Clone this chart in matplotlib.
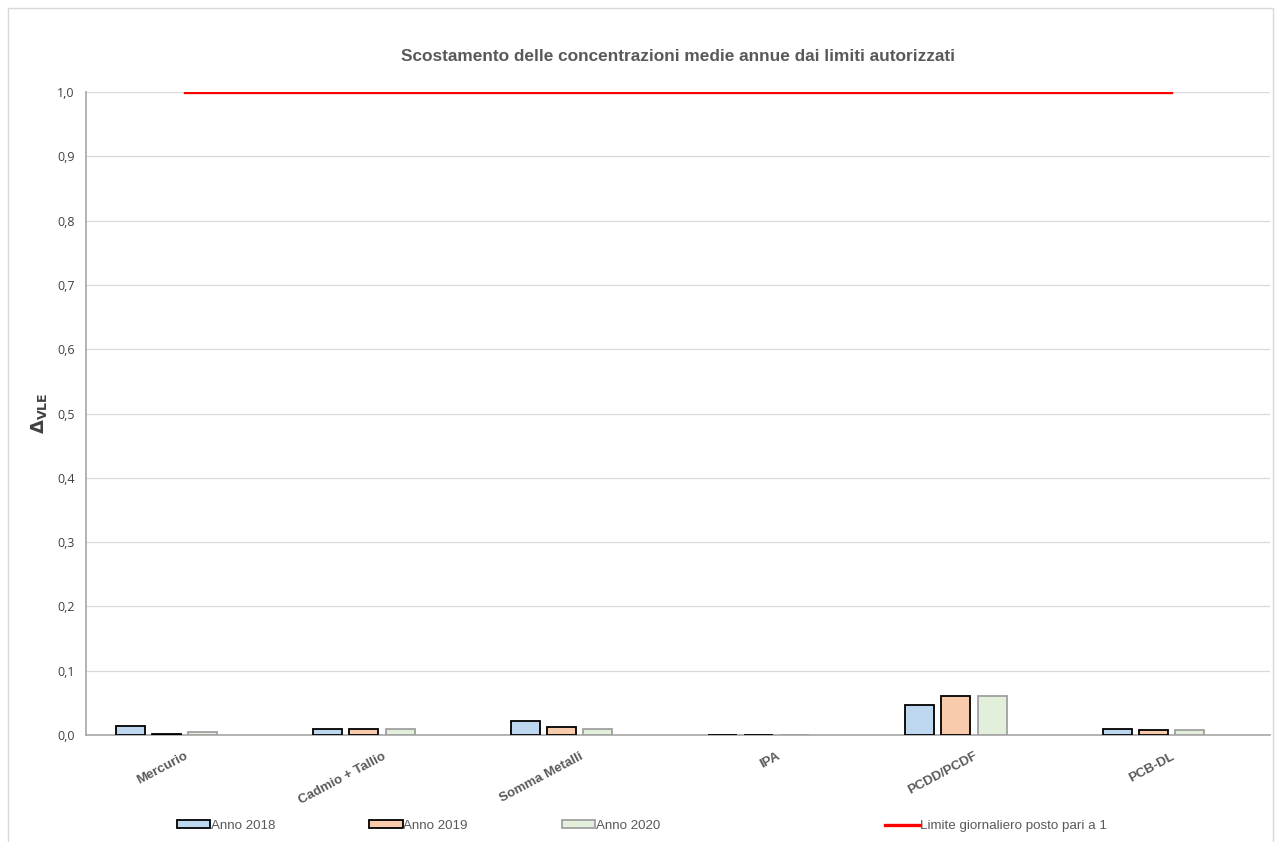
import matplotlib
matplotlib.use("Agg")
import matplotlib.pyplot as plt
import numpy as np
from matplotlib.patches import Rectangle

# deviations of yearly mean concentrations from the authorised limits
categories = ["Mercurio", "Cadmio + Tallio", "Somma Metalli", "IPA", "PCDD/PCDF", "PCB-DL"]
anno_2018 = [0.014, 0.010, 0.021, 0.0005, 0.046, 0.010]
anno_2019 = [0.002, 0.010, 0.012, 0.0005, 0.061, 0.007]
anno_2020 = [0.004, 0.010, 0.009, 0.0005, 0.061, 0.007]
limite = [1.0] * len(categories)

series = [
    ("Anno 2018", anno_2018, "#BDD7EE", "#000000"),
    ("Anno 2019", anno_2019, "#F8CBAD", "#000000"),
    ("Anno 2020", anno_2020, "#E2EFDA", "#A0A0A0"),
]

plt.rcParams["font.family"] = ["Liberation Sans", "DejaVu Sans"]

fig = plt.figure(figsize=(12.78, 8.42), dpi=100)
ax = fig.add_axes([0.0673, 0.1271, 0.9264, 0.7636])

# outer chart frame
fig.patches.append(Rectangle((0.006, -0.01), 0.99, 1.0, transform=fig.transFigure,
                             fill=False, edgecolor="#D9D9D9", linewidth=1))

x = np.arange(len(categories))
slot = 0.183
width = 0.147
handles = []
for i, (name, vals, fc, ec) in enumerate(series):
    h = ax.bar(x + (i - 1.5) * slot, vals, width=width, color=fc,
               edgecolor=ec, linewidth=1.3, label=name, zorder=3)
    handles.append(h)

line, = ax.plot(x, limite, color="#FF0000", linewidth=2.4,
                label="Limite giornaliero posto pari a 1", zorder=4)

ax.set_xlim(-0.5, len(categories) - 0.5)
ax.set_ylim(0, 1.0)
ax.set_yticks(np.arange(0, 1.01, 0.1))
ax.set_yticklabels([f"{v:.1f}".replace(".", ",") for v in np.arange(0, 1.01, 0.1)],
                   fontfamily="Open Sans", fontsize=9, color="#404040")
ax.yaxis.grid(True, color="#D9D9D9", linewidth=0.9, zorder=0)
ax.tick_params(axis="y", length=0, pad=8)
ax.tick_params(axis="x", length=0, pad=11)

ax.set_xticks(x)
ax.set_xticklabels(categories, rotation=28, ha="right", rotation_mode="anchor",
                   fontweight="bold", fontsize=9.5, color="#595959")

for s in ["top", "right"]:
    ax.spines[s].set_visible(False)
ax.spines["left"].set_color("#A6A6A6")
ax.spines["bottom"].set_color("#A6A6A6")
ax.spines["left"].set_linewidth(1.2)
ax.spines["bottom"].set_linewidth(1.2)

ax.set_ylabel(r"$\mathbf{\Delta}_{\mathbf{VLE}}$", fontsize=13, color="#404040", labelpad=6)

fig.text(0.5305, 0.933, "Scostamento delle concentrazioni medie annue dai limiti autorizzati",
         ha="center", va="center", fontsize=12.4, fontweight="bold", color="#595959")

# bar legend on the left, limit line legend on the right
leg1 = fig.legend(handles, [h.get_label() for h in handles],
                  loc="center left", bbox_to_anchor=(0.129, 0.019), ncol=3, frameon=False,
                  fontsize=9.6, handlelength=2.5, handleheight=0.55, handletextpad=0.05,
                  columnspacing=7.05, labelcolor="#595959")
leg2 = fig.legend([line], [line.get_label()],
                  loc="center left", bbox_to_anchor=(0.683, 0.019), frameon=False,
                  fontsize=9.6, handlelength=2.6, handletextpad=0.05, labelcolor="#595959")

fig.savefig("out.png", dpi=100)
